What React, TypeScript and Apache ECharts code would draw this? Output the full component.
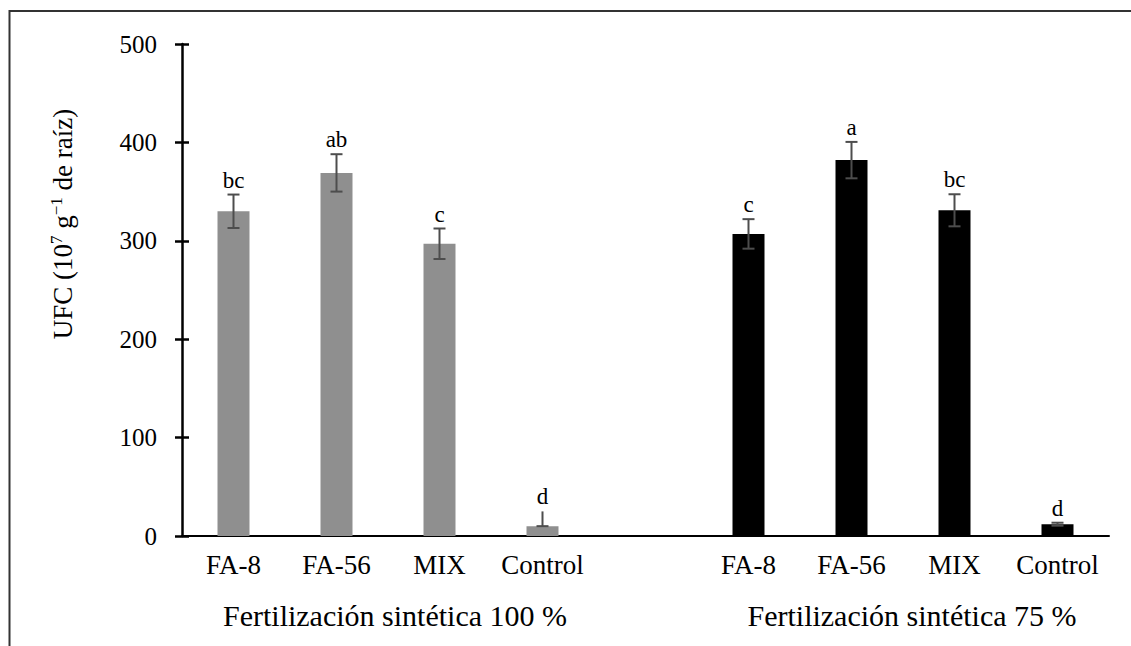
import React, { useEffect, useRef } from "react";
import * as echarts from "echarts";

const categories = ["FA-8", "FA-56", "MIX", "Control", "", "FA-8", "FA-56", "MIX", "Control"];
const grayIdx = [0, 1, 2, 3];
const grayValues = [330, 369, 297, 10];
const grayErrUp = [17, 19, 15.5, 15];
const grayErrDown = [17, 19, 15.5, 0];
const grayCapTop = [1, 1, 1, 0];
const grayLetters = ["bc", "ab", "c", "d"];

const blackIdx = [5, 6, 7, 8];
const blackValues = [307, 382, 331, 12];
const blackErrUp = [15, 18.5, 16.3, 1.5];
const blackErrDown = [15, 18.5, 16.3, 1.5];
const blackCapTop = [1, 1, 1, 1];
const blackLetters = ["c", "a", "bc", "d"];

const groupLabels = ["Fertilización sintética 100 %", "Fertilización sintética 75 %"];
const yTicks = { min: 0, max: 500, interval: 100 };

const SERIF = "Liberation Serif";

function pad(idx: number[], vals: number[]) {
  const out: (number | string)[] = categories.map(() => "-");
  idx.forEach((c, i) => (out[c] = vals[i]));
  return out;
}

function errData(idx: number[], vals: number[], up: number[], down: number[], cap: number[]) {
  return idx.map((c, i) => [c, vals[i] - down[i], vals[i] + up[i], cap[i]]);
}

function makeRender(letters: string[]) {
  return (params: any, api: any) => {
    const x = api.value(0);
    const low = api.value(1);
    const high = api.value(2);
    const capTop = api.value(3);
    const pH = api.coord([x, high]);
    const pL = api.coord([x, low]);
    const hw = 6;
    const stroke = { stroke: "#4d4d4d", lineWidth: 2 };
    const children: any[] = [
      { type: "line", shape: { x1: pH[0], y1: pH[1], x2: pL[0], y2: pL[1] }, style: stroke },
      { type: "line", shape: { x1: pL[0] - hw, y1: pL[1], x2: pL[0] + hw, y2: pL[1] }, style: stroke },
    ];
    if (capTop) {
      children.push({ type: "line", shape: { x1: pH[0] - hw, y1: pH[1], x2: pH[0] + hw, y2: pH[1] }, style: stroke });
    }
    children.push({
      type: "text",
      style: {
        x: pH[0],
        y: pH[1] - 3,
        text: letters[params.dataIndex],
        align: "center",
        verticalAlign: "bottom",
        fontSize: 23,
        fontFamily: SERIF,
        fill: "#000",
      },
    });
    return { type: "group", children };
  };
}

export default function App() {
  const ref = useRef<HTMLDivElement>(null);
  useEffect(() => {
    if (!ref.current) return;
    const chart = echarts.init(ref.current, null, { renderer: "svg" });
    chart.setOption({
      animation: false,
      backgroundColor: "#fff",
      textStyle: { fontFamily: SERIF },
      grid: { left: 182, right: 22, top: 44, bottom: 110 },
      xAxis: {
        type: "category",
        data: categories,
        axisLine: { lineStyle: { color: "#000", width: 2 } },
        axisTick: { show: false },
        axisLabel: { interval: 0, fontSize: 27, fontFamily: SERIF, color: "#000", margin: 15 },
      },
      yAxis: [
        {
          type: "value",
          ...yTicks,
          axisLine: { show: true, lineStyle: { color: "#000", width: 2.5 } },
          axisTick: { show: true, length: 7, lineStyle: { color: "#000", width: 2.5 } },
          axisLabel: { fontSize: 25, fontFamily: SERIF, color: "#000", margin: 25 },
          splitLine: { show: false },
        },
        {
          type: "value",
          position: "left",
          ...yTicks,
          axisLine: { show: false },
          axisTick: { show: true, inside: true, length: 7, lineStyle: { color: "#000", width: 2.5 } },
          axisLabel: { show: false },
          splitLine: { show: false },
        },
      ],
      series: [
        {
          type: "bar",
          data: pad(grayIdx, grayValues),
          barWidth: 32,
          barGap: "-100%",
          itemStyle: { color: "#8f8f8f" },
        },
        {
          type: "bar",
          data: pad(blackIdx, blackValues),
          barWidth: 32,
          barGap: "-100%",
          itemStyle: { color: "#000" },
        },
        {
          type: "custom",
          coordinateSystem: "cartesian2d",
          encode: { x: 0, y: [1, 2] },
          data: errData(grayIdx, grayValues, grayErrUp, grayErrDown, grayCapTop),
          renderItem: makeRender(grayLetters),
          z: 5,
        },
        {
          type: "custom",
          coordinateSystem: "cartesian2d",
          encode: { x: 0, y: [1, 2] },
          data: errData(blackIdx, blackValues, blackErrUp, blackErrDown, blackCapTop),
          renderItem: makeRender(blackLetters),
          z: 5,
        },
      ],
      graphic: [
        { type: "line", shape: { x1: 9.5, y1: 11, x2: 1131, y2: 11 }, style: { stroke: "#333", lineWidth: 2 } },
        { type: "line", shape: { x1: 9.5, y1: 10, x2: 9.5, y2: 646 }, style: { stroke: "#333", lineWidth: 2 } },
        {
          type: "text",
          x: 63,
          y: 224,
          rotation: Math.PI / 2,
          style: {
            text: "{n|UFC (10}{s|7}{n| g}{s|−1}{n| de raíz)}",
            align: "center",
            verticalAlign: "middle",
            rich: {
              n: { fontSize: 27, fontFamily: SERIF, fill: "#000", lineHeight: 30 },
              s: { fontSize: 17, fontFamily: SERIF, fill: "#000", lineHeight: 18, verticalAlign: "top" },
            },
          },
        },
        {
          type: "text",
          x: 395,
          y: 615,
          style: { text: groupLabels[0], align: "center", verticalAlign: "middle", fontSize: 30, fontFamily: SERIF, fill: "#000" },
        },
        {
          type: "text",
          x: 912,
          y: 615,
          style: { text: groupLabels[1], align: "center", verticalAlign: "middle", fontSize: 30, fontFamily: SERIF, fill: "#000" },
        },
      ],
    });
    return () => chart.dispose();
  }, []);
  return <div ref={ref} style={{ position: "fixed", left: 0, top: 0, width: 1131, height: 646 }} />;
}
